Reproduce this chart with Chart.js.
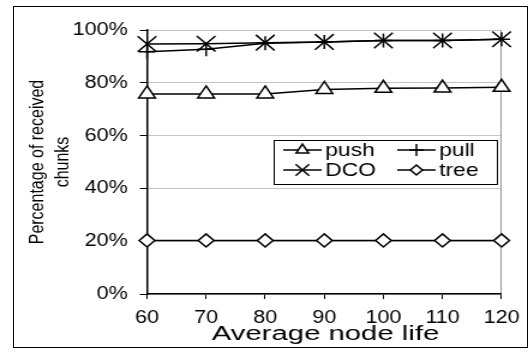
<!doctype html>
<html lang="en">
<head>
<meta charset="utf-8">
<title>Percentage of received chunks</title>
<style>
  html, body { margin: 0; padding: 0; background: #fff; }
  #frame { position: absolute; left: 13px; top: 6px; width: 513px; height: 340px; border: 1px solid #000; }
  /* the figure is drawn narrow and stretched out sideways */
  #wrap { position: absolute; left: 0; top: 0; width: 441px; height: 358px; transform: scaleX(1.2); transform-origin: 0 0; }
</style>
</head>
<body>
<div id="frame"></div>
<div id="wrap"><canvas id="chart"></canvas></div>
<script src="https://cdn.jsdelivr.net/npm/chart.js@4.4.0/dist/chart.umd.min.js"></script>
<script>
var nodeLife = [60, 70, 80, 90, 100, 110, 120];
var push = [75.8, 75.8, 75.8, 77.5, 77.9, 78.0, 78.3];
var pull = [91.8, 92.7, 95.0, 95.5, 96.0, 96.0, 96.5];
var dco  = [94.7, 94.8, 95.2, 95.5, 96.0, 96.0, 96.5];
var tree = [20.3, 20.3, 20.3, 20.3, 20.3, 20.3, 20.3];
var yMax = 100, yStep = 20;
var xTitle = 'Average node life';

var FONT = '"Liberation Sans", Arial, sans-serif';

function series(label, data, style, r) {
    return {
        label: label, data: data,
        borderColor: '#000', borderWidth: 1.5,
        backgroundColor: '#fff',
        pointStyle: style, pointRadius: r, pointHoverRadius: r,
        pointBorderColor: '#000', pointBackgroundColor: '#fff', pointBorderWidth: 1.5,
        tension: 0
    };
}

// legend box sitting inside the plot, lines with markers
var legendRows = [
    {text: 'push', style: 'triangle', r: 6, x: 236, y: 150},
    {text: 'pull', style: 'cross', r: 6, x: 331, y: 150},
    {text: 'DCO', style: 'crossRot', r: 8, x: 236, y: 170},
    {text: 'tree', style: 'rectRot', r: 5, x: 331, y: 170}
];
var boxLegend = {
    id: 'boxLegend',
    afterDraw: function(chart) {
        var ctx = chart.ctx;
        ctx.save();
        ctx.fillStyle = '#fff';
        ctx.fillRect(228, 140, 186, 44);
        ctx.strokeStyle = '#000';
        ctx.lineWidth = 1;
        ctx.strokeRect(228.5, 140.5, 186, 44);
        legendRows.forEach(function(it) {
            ctx.strokeStyle = '#000';
            ctx.lineWidth = 1.5;
            ctx.beginPath();
            ctx.moveTo(it.x, it.y);
            ctx.lineTo(it.x + 32, it.y);
            ctx.stroke();
            ctx.fillStyle = '#fff';
            Chart.helpers.drawPoint(ctx, {pointStyle: it.style, radius: it.r, rotation: 0, borderWidth: 1.5}, it.x + 16, it.y);
            ctx.fillStyle = '#000';
            ctx.font = '19px ' + FONT;
            ctx.textBaseline = 'middle';
            ctx.textAlign = 'left';
            ctx.fillText(it.text, it.x + 35, it.y + 1);
        });
        ctx.restore();
    }
};

// x axis caption, a little wider than the normal font
var wideTitle = {
    id: 'wideTitle',
    afterDraw: function(chart) {
        var ctx = chart.ctx, a = chart.chartArea;
        ctx.save();
        ctx.translate((a.left + a.right) / 2 + 1, 334);
        ctx.scale(1.22, 1);
        ctx.fillStyle = '#000';
        ctx.font = '20px ' + FONT;
        ctx.textAlign = 'center';
        ctx.textBaseline = 'middle';
        ctx.fillText(xTitle, 0, 0);
        ctx.restore();
    }
};

new Chart(document.getElementById('chart'), {
    type: 'line',
    data: {
        labels: nodeLife,
        datasets: [
            series('tree', tree, 'rectRot', 6.5),
            series('push', push, 'triangle', 8),
            series('pull', pull, 'cross', 7),
            series('DCO', dco, 'crossRot', 11)
        ]
    },
    options: {
        responsive: true,
        maintainAspectRatio: false,
        animation: false,
        events: [],
        layout: { padding: { left: 0, top: 30, right: 20, bottom: 0 } },
        plugins: { legend: { display: false }, tooltip: { enabled: false } },
        scales: {
            x: {
                offset: false,
                afterFit: function(s) { s.height = 64; },
                grid: {
                    drawOnChartArea: true,
                    color: function(c) { return c.index === nodeLife.length - 1 ? '#999' : 'rgba(0,0,0,0)'; },
                    tickColor: '#000', tickLength: 5
                },
                border: { color: '#000', width: 1.5 },
                ticks: { color: '#000', padding: 8, maxRotation: 0, font: { family: FONT, size: 18 } },
                title: { display: false }
            },
            y: {
                min: 0, max: yMax,
                afterFit: function(s) { s.width = 122.5; },
                grid: { color: '#888', tickColor: '#000', tickLength: 6 },
                border: { color: '#000', width: 1.5, dash: [1, 1] },
                ticks: {
                    stepSize: yStep, color: '#000', padding: 10,
                    font: { family: FONT, size: 18 },
                    callback: function(v) { return v + '%'; }
                },
                title: {
                    display: true, text: ['Percentage of received', 'chunks'], color: '#000',
                    font: { family: FONT, size: 16, lineHeight: 1.3 }, padding: { top: 21, bottom: 0 }
                }
            }
        }
    },
    plugins: [boxLegend, wideTitle]
});
</script>
</body>
</html>
